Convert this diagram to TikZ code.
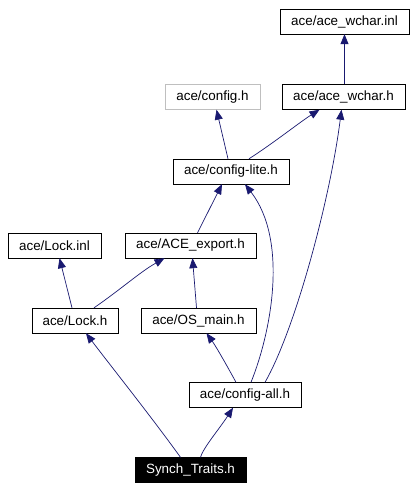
\documentclass[tikz,border=0pt]{standalone}
\usepackage{fontspec}
\setmainfont{Liberation Sans}
\usetikzlibrary{arrows.meta}
\definecolor{edgeblue}{HTML}{191970}
\definecolor{greyline}{HTML}{BFBFBF}
\tikzset{
  file/.style={draw=black,fill=white,minimum height=25pt,inner sep=0pt,
    font=\fontsize{13.4}{16}\selectfont},
  dep/.style={-{Triangle[length=10pt,width=8pt]},draw=edgeblue,
    line width=0.7pt}
}
\begin{document}
\begin{tikzpicture}[x=1pt,y=-1pt,
  current/.style={file,fill=black,text=white},
  missing/.style={file,draw=greyline}
]
  \useasboundingbox (0,0) rectangle (415,490);
  % include graph of Synch_Traits.h
  \node[file,minimum width=129pt] (wcharinl) at (344.5,21.5) {ace/ace\_wchar.inl};
  \node[missing,minimum width=95pt] (config) at (212.5,97) {ace/config.h};
  \node[file,minimum width=123pt] (wcharh) at (343.5,97) {ace/ace\_wchar.h};
  \node[file,minimum width=116pt] (cfglite) at (231,171.5) {ace/config-lite.h};
  \node[file,minimum width=93pt] (lockinl) at (54.5,245.5) {ace/Lock.inl};
  \node[file,minimum width=131pt] (export) at (190.5,245.5) {ace/ACE\_export.h};
  \node[file,minimum width=86pt] (lockh) at (75,320.5) {ace/Lock.h};
  \node[file,minimum width=115pt] (osmain) at (198.5,320.5) {ace/OS\_main.h};
  \node[file,minimum width=112pt] (cfgall) at (245,395) {ace/config-all.h};
  \node[current,minimum width=111pt] (synch) at (190.5,470) {Synch\_Traits.h};

  \draw[dep] (wcharh.north -| wcharinl.south) -- (wcharinl.south);
  \draw[dep] ([xshift=-3]cfglite.north) -- ([xshift=4]config.south);
  \draw[dep] ([xshift=18]cfglite.north) .. controls (275,142) and (300,122)
    .. ([xshift=-24]wcharh.south);
  \draw[dep] ([xshift=7]export.north) -- ([xshift=-9]cfglite.south);
  \draw[dep] ([xshift=-3]lockh.north) -- ([xshift=5]lockinl.south);
  \draw[dep] ([xshift=19]lockh.north) .. controls (120,290) and (140,272)
    .. ([xshift=-26]export.south);
  \draw[dep] ([xshift=-2]osmain.north) -- ([xshift=2]export.south);
  \draw[dep] ([xshift=-9]cfgall.north) .. controls (225,362) and (215,345)
    .. ([xshift=8]osmain.south);
  \draw[dep] ([xshift=6]cfgall.north) .. controls (272,330) and (288,240)
    .. ([xshift=14]cfglite.south);
  \draw[dep] ([xshift=20]cfgall.north) .. controls (295,330) and (330,200)
    .. ([xshift=-2]wcharh.south);
  \draw[dep] ([xshift=-10]synch.north) .. controls (150,415) and (110,365)
    .. ([xshift=11]lockh.south);
  \draw[dep] ([xshift=10]synch.north) .. controls (203,448) and (220,428)
    .. ([xshift=-12]cfgall.south);
\end{tikzpicture}
\end{document}
